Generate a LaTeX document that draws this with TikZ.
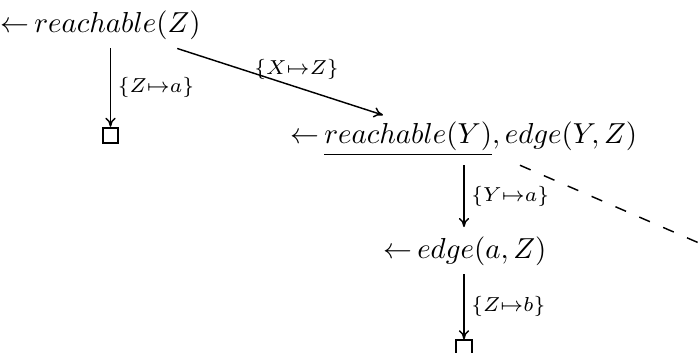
\documentclass[tikz,border=0pt]{standalone}
\usepackage{amsmath,amssymb}
\usepackage{tikz}
\usetikzlibrary{arrows.meta,positioning,calc}

\begin{document}
\begin{tikzpicture}[x=0.346pt, y=-0.346pt,
		goal/.style={inner sep=0pt, outer ysep=3.2pt, anchor=base west},
		fail/.style={draw, rectangle, minimum size=5.4pt, inner sep=0pt, line width=0.6pt},
		derive/.style={line width=0.5pt, -{To[length=3.2pt,width=3.6pt]}},
		subst/.style={font=\scriptsize, inner sep=2.3pt}]
		\clip (0,0) rectangle (699,353);

		\node[goal] (root) at (0,32) {${\leftarrow}\,reachable(Z)$};
		\node[fail] (fail1) at (110.5,135.5) {};
		\node[goal] (goal2) at (290,143) {${\leftarrow}\,\underline{reachable(Y)}, edge(Y,Z)$};
		\node[goal] (goal3) at (383,258) {${\leftarrow}\,edge(a,Z)$};
		\node[fail] (fail2) at (464,348) {};
		\coordinate (cut) at (699,243);

		\draw[derive] (root.south -| fail1) -- node[subst, right] {$\{Z{\mapsto}a\}$} (fail1);
		\draw[derive] ($(root.south east)+(-24,0)$) -- node[subst, pos=0.58, above] {$\{X{\mapsto}Z\}$} ($(goal2.north west)+(93,3)$);
		\draw[derive] (goal2.south -| fail2) -- node[subst, right] {$\{Y{\mapsto}a\}$} (goal3.north -| fail2);
		\draw[derive] (goal3.south -| fail2) -- node[subst, right] {$\{Z{\mapsto}b\}$} (fail2);
		\draw[line width=0.5pt, dash pattern=on 4pt off 5pt] ($(goal2.south west)+(230,0)$) -- (cut);
	\end{tikzpicture}
\end{document}
